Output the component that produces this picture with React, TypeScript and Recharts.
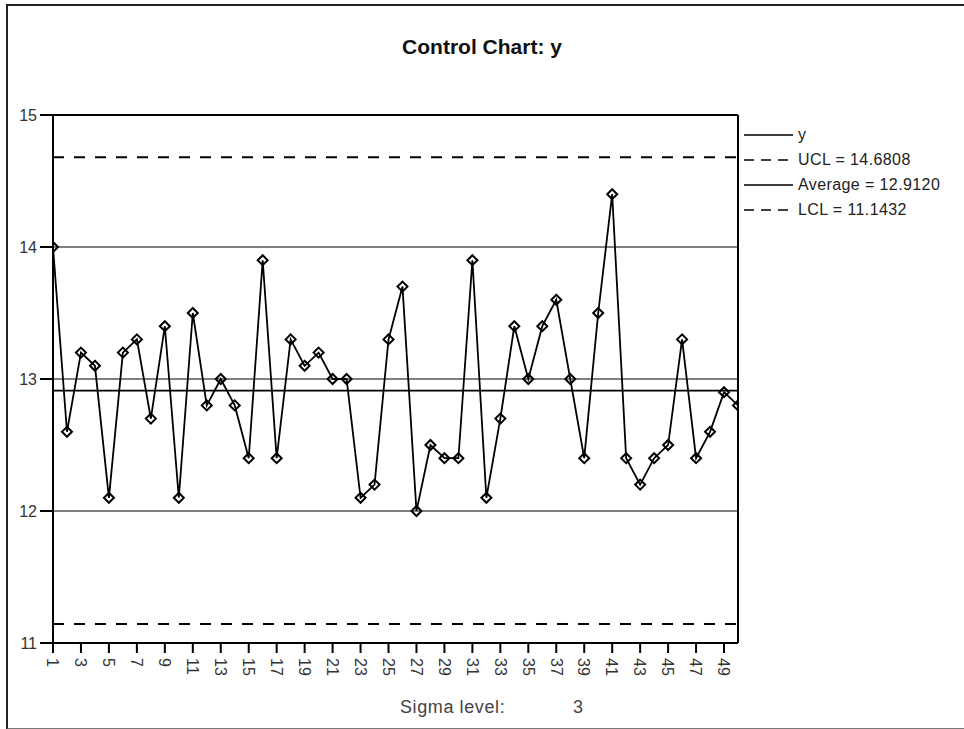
import React from "react"
import {
  LineChart,
  Line,
  XAxis,
  YAxis,
  CartesianGrid,
  ReferenceLine,
} from "recharts"

const samples = [
  1, 2, 3, 4, 5, 6, 7, 8, 9, 10,
  11, 12, 13, 14, 15, 16, 17, 18, 19, 20,
  21, 22, 23, 24, 25, 26, 27, 28, 29, 30,
  31, 32, 33, 34, 35, 36, 37, 38, 39, 40,
  41, 42, 43, 44, 45, 46, 47, 48, 49, 50,
]

const yValues = [
  14.0, 12.6, 13.2, 13.1, 12.1, 13.2, 13.3, 12.7, 13.4, 12.1,
  13.5, 12.8, 13.0, 12.8, 12.4, 13.9, 12.4, 13.3, 13.1, 13.2,
  13.0, 13.0, 12.1, 12.2, 13.3, 13.7, 12.0, 12.5, 12.4, 12.4,
  13.9, 12.1, 12.7, 13.4, 13.0, 13.4, 13.6, 13.0, 12.4, 13.5,
  14.4, 12.4, 12.2, 12.4, 12.5, 13.3, 12.4, 12.6, 12.9, 12.8,
]

const xTicks = [
  1, 3, 5, 7, 9, 11, 13, 15, 17, 19, 21, 23, 25,
  27, 29, 31, 33, 35, 37, 39, 41, 43, 45, 47, 49,
]
const yTicks = [11, 12, 13, 14, 15]
const gridValues = [12, 13, 14]

const ucl = 14.6808
const average = 12.912
const lcl = 11.1432
const sigmaLevel = 3

const legendItems = [
  { label: "y", dashed: false },
  { label: "UCL = 14.6808", dashed: true },
  { label: "Average = 12.9120", dashed: false },
  { label: "LCL = 11.1432", dashed: true },
]

const data = samples.map((s, i) => ({ sample: s, y: yValues[i] }))

const font = "'Liberation Sans', Arial, sans-serif"

function XTick(props: any) {
  const { x, y, payload } = props
  return (
    <text
      x={x}
      y={y + 3}
      dy="0.36em"
      transform={`rotate(90, ${x}, ${y + 3})`}
      textAnchor="start"
      fontSize={16}
      fontFamily={font}
      fill="#333"
    >
      {payload.value}
    </text>
  )
}

function Diamond(props: any) {
  const { cx, cy } = props
  if (cx == null || cy == null) return null
  const r = 5
  return (
    <path
      d={`M${cx},${cy - r} L${cx + r},${cy} L${cx},${cy + r} L${cx - r},${cy} Z`}
      fill="none"
      stroke="#000"
      strokeWidth={2}
    />
  )
}

export default function App() {
  return (
    <div
      style={{
        position: "absolute",
        left: 0,
        top: 0,
        width: 964,
        height: 729,
        background: "#fff",
        fontFamily: font,
      }}
    >
      {/* outer frame */}
      <div
        style={{
          position: "absolute",
          left: 6,
          top: 4,
          width: 958,
          height: 722,
          borderLeft: "2px solid #222",
          borderTop: "2px solid #222",
          borderBottom: "2px solid #777",
        }}
      />

      <div
        style={{
          position: "absolute",
          left: 0,
          top: 35,
          width: 964,
          textAlign: "center",
          fontSize: 21,
          fontWeight: "bold",
          color: "#111",
        }}
      >
        Control Chart: y
      </div>

      <div style={{ position: "absolute", left: 0, top: 0 }}>
        <LineChart
          width={964}
          height={729}
          data={data}
          margin={{ top: 115, right: 226, bottom: 46, left: 7 }}
        >
          <CartesianGrid
            vertical={false}
            horizontalValues={gridValues}
            stroke="#555"
            strokeWidth={1.6}
          />
          <XAxis
            dataKey="sample"
            type="number"
            domain={[1, 50]}
            ticks={xTicks}
            interval={0}
            allowDataOverflow
            tickSize={10}
            height={40}
            stroke="#000"
            strokeWidth={2}
            tick={<XTick />}
          />
          <YAxis
            type="number"
            domain={[11, 15]}
            ticks={yTicks}
            allowDataOverflow
            width={46}
            tickSize={13}
            tickMargin={3}
            stroke="#000"
            strokeWidth={2}
            tick={{ fill: "#333", fontSize: 16, fontFamily: font }}
          />
          <ReferenceLine y={15} stroke="#000" strokeWidth={2} />
          <ReferenceLine x={50} stroke="#000" strokeWidth={2} />
          <ReferenceLine y={ucl} stroke="#000" strokeWidth={2} strokeDasharray="11 10" />
          <ReferenceLine y={average} stroke="#000" strokeWidth={1.6} />
          <ReferenceLine y={lcl} stroke="#000" strokeWidth={2} strokeDasharray="11 10" />
          <Line
            type="linear"
            dataKey="y"
            stroke="#000"
            strokeWidth={1.8}
            dot={<Diamond />}
            activeDot={false}
            isAnimationActive={false}
          />
        </LineChart>
      </div>

      {/* legend */}
      <div style={{ position: "absolute", left: 744, top: 122 }}>
        {legendItems.map((item) => (
          <div
            key={item.label}
            style={{ display: "flex", alignItems: "center", height: 25 }}
          >
            <svg width={50} height={10}>
              <line
                x1={0}
                y1={5}
                x2={49}
                y2={5}
                stroke="#000"
                strokeWidth={1.6}
                strokeDasharray={item.dashed ? "10 7" : undefined}
              />
            </svg>
            <span
              style={{
                marginLeft: 4,
                fontSize: 16,
                letterSpacing: 0.4,
                color: "#222",
              }}
            >
              {item.label}
            </span>
          </div>
        ))}
      </div>

      <div
        style={{
          position: "absolute",
          left: 400,
          top: 697,
          fontSize: 18,
          color: "#444",
          letterSpacing: 0.6,
        }}
      >
        Sigma level:
      </div>
      <div
        style={{
          position: "absolute",
          left: 573,
          top: 697,
          fontSize: 18,
          color: "#444",
        }}
      >
        {sigmaLevel}
      </div>
    </div>
  )
}
